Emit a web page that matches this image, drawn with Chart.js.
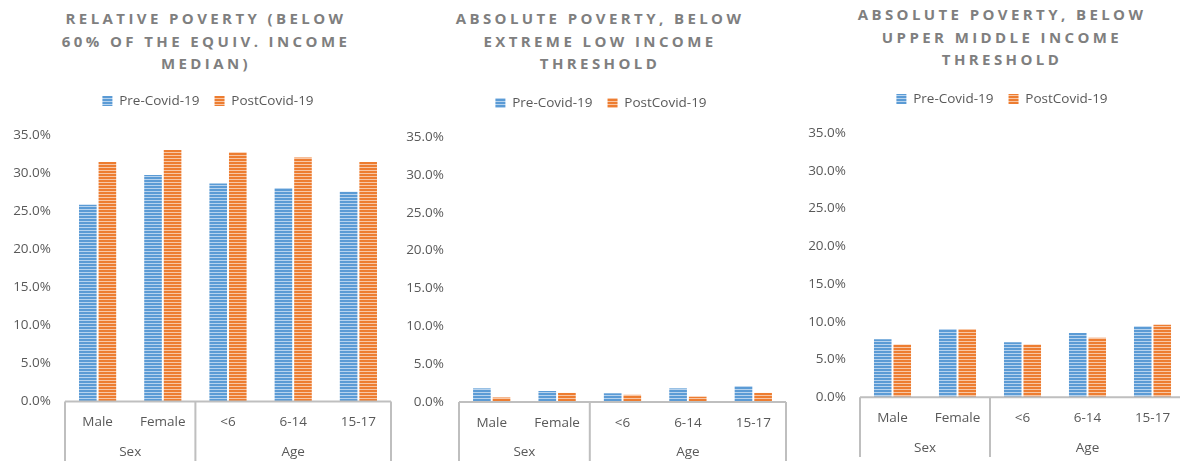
<!DOCTYPE html>
<html>
<head>
<meta charset="utf-8">
<script src="https://cdn.jsdelivr.net/npm/chart.js@4.4.1/dist/chart.umd.min.js"></script>
<style>
    body { margin: 0; width: 1180px; height: 461px; overflow: hidden; background: #fff; position: relative; font-family: 'Open Sans', sans-serif; }
    canvas { position: absolute; top: 0; }
    .title { position: absolute; width: 400px; text-align: center; font-weight: 700; font-size: 15px; line-height: 22.7px; letter-spacing: 3.4px; color: #7f7f7f; }
</style>
</head>
<body>
<div class="title" style="left:6px; top:7px;">RELATIVE POVERTY (BELOW<br>60% OF THE EQUIV. INCOME<br>MEDIAN)</div>
<div class="title" style="left:400px; top:7px;">ABSOLUTE POVERTY, BELOW<br>EXTREME LOW INCOME<br>THRESHOLD</div>
<div class="title" style="left:802px; top:3px;">ABSOLUTE POVERTY, BELOW<br>UPPER MIDDLE INCOME<br>THRESHOLD</div>

<canvas id="relativeChart" width="400" height="461" style="left:0px;"></canvas>
<canvas id="extremeChart" width="390" height="461" style="left:400px;"></canvas>
<canvas id="upperChart" width="400" height="457" style="left:790px;"></canvas>

<script>
// Categories and groups
const categories = ['Male', 'Female', '<6', '6-14', '15-17'];
const groupLabels = ['Sex', 'Age'];
const groupSizes = [2, 3];
const seriesNames = ['Pre-Covid-19', 'PostCovid-19'];
const yTicks = [0, 5, 10, 15, 20, 25, 30, 35];

// Values (%)
const relativePre = [25.9, 29.8, 28.7, 28.1, 27.6];
const relativePost = [31.5, 33.1, 32.8, 32.1, 31.5];
const extremePre = [1.8, 1.45, 1.15, 1.8, 2.1];
const extremePost = [0.6, 1.2, 0.95, 0.7, 1.2];
const upperPre = [7.7, 9.05, 7.3, 8.5, 9.4];
const upperPost = [7.0, 9.05, 7.0, 7.9, 9.6];

const textColor = '#595959';
const axisFont = { family: 'Open Sans', size: 13.5 };

// Striped fill like the excel pattern
function stripes(base, light) {
    const c = document.createElement('canvas');
    c.width = 4;
    c.height = 3;
    const g = c.getContext('2d');
    g.fillStyle = base;
    g.fillRect(0, 0, 4, 3);
    g.fillStyle = light;
    g.fillRect(0, 2, 4, 1);
    return g.createPattern(c, 'repeat');
}

// Extra space under the legend, and nudge it sideways
function legendPlace(gap, shift) {
    return {
        id: 'legendPlace',
        beforeInit(chart) {
            const fit = chart.legend.fit;
            chart.legend.fit = function() {
                fit.bind(chart.legend)();
                this.height += gap;
            };
        },
        afterLayout(chart) {
            chart.legend.left += shift;
            chart.legend.right += shift;
        }
    };
}

// Two level category axis (Sex / Age) with the box lines
const groupAxis = {
    id: 'groupAxis',
    afterDraw(chart) {
        const ctx = chart.ctx;
        const x = chart.scales.x;
        const y0 = chart.chartArea.bottom;
        const step = (x.right - x.left) / categories.length;
        const edges = [x.left];
        let n = 0;
        groupSizes.forEach(size => {
            n += size;
            edges.push(x.left + n * step);
        });

        ctx.save();
        ctx.strokeStyle = '#bfbfbf';
        ctx.lineWidth = 2;
        ctx.beginPath();
        ctx.moveTo(x.left, y0);
        ctx.lineTo(x.right, y0);
        edges.forEach(px => {
            ctx.moveTo(px, y0);
            ctx.lineTo(px, chart.height);
        });
        ctx.stroke();

        ctx.fillStyle = textColor;
        ctx.font = '13.5px "Open Sans"';
        ctx.textAlign = 'center';
        ctx.textBaseline = 'middle';
        groupLabels.forEach((label, i) => {
            ctx.fillText(label, (edges[i] + edges[i + 1]) / 2, y0 + 50.5);
        });
        ctx.restore();
    }
};

function makeChart(id, pre, post, cfg) {
    return new Chart(document.getElementById(id), {
        type: 'bar',
        data: {
            labels: categories,
            datasets: [{
                label: seriesNames[0],
                data: pre,
                backgroundColor: stripes('#5b9bd5', '#b7d3ee'),
                barPercentage: 0.9,
                categoryPercentage: 0.6
            }, {
                label: seriesNames[1],
                data: post,
                backgroundColor: stripes('#ed7d31', '#f8c7a6'),
                barPercentage: 0.9,
                categoryPercentage: 0.6
            }]
        },
        options: {
            responsive: false,
            animation: false,
            layout: {
                padding: { top: cfg.padTop, left: 0, right: cfg.padRight, bottom: 0 }
            },
            plugins: {
                legend: {
                    position: 'top',
                    labels: {
                        boxWidth: 10,
                        boxHeight: 10,
                        padding: 15,
                        color: textColor,
                        font: axisFont
                    }
                },
                tooltip: { enabled: false }
            },
            scales: {
                x: {
                    grid: { display: false, drawTicks: false },
                    border: { display: false },
                    ticks: { color: textColor, font: axisFont, padding: 13, maxRotation: 0, autoSkip: false },
                    afterFit: function(scale) { scale.height = cfg.xHeight; }
                },
                y: {
                    min: yTicks[0],
                    max: yTicks[yTicks.length - 1],
                    grid: { display: false, drawTicks: false },
                    border: { display: false },
                    ticks: {
                        stepSize: yTicks[1] - yTicks[0],
                        padding: cfg.tickPad,
                        color: textColor,
                        font: axisFont,
                        callback: function(value) { return value.toFixed(1) + '%'; }
                    },
                    afterFit: function(scale) { scale.width = cfg.yWidth; }
                }
            }
        },
        plugins: [legendPlace(cfg.gap, cfg.shift), groupAxis]
    });
}

makeChart('relativeChart', relativePre, relativePost,
    { padTop: 79.25, padRight: 9, yWidth: 65, tickPad: 14, gap: 17.75, xHeight: 59.5, shift: 12.5 });
makeChart('extremeChart', extremePre, extremePost,
    { padTop: 81.25, padRight: 4, yWidth: 59, tickPad: 15, gap: 17.25, xHeight: 59, shift: 8 });
makeChart('upperChart', upperPre, upperPost,
    { padTop: 77.25, padRight: 5, yWidth: 70, tickPad: 14, gap: 17.25, xHeight: 59.7, shift: 14.5 });
</script>
</body>
</html>
